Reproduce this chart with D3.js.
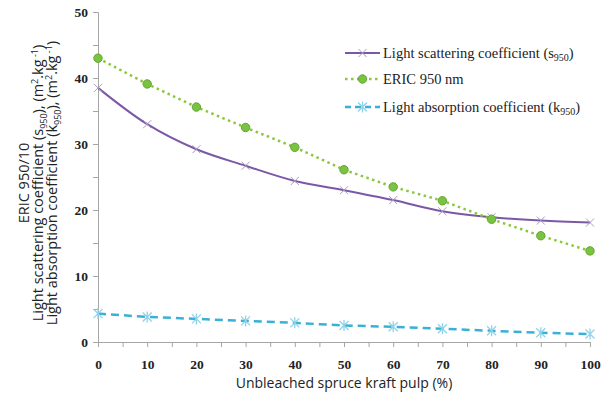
<!DOCTYPE html>
<html>
<head>
<meta charset="utf-8">
<script src="https://cdn.jsdelivr.net/npm/d3@7"></script>
<style>
body { margin: 0; background: #fff; }
</style>
</head>
<body>
<div id="chart-area"></div>
<script>
// data
var pulp = [0, 10, 20, 30, 40, 50, 60, 70, 80, 90, 100];
var scattering = [38.5, 33.0, 29.2, 26.7, 24.4, 23.0, 21.5, 19.8, 18.9, 18.4, 18.1];
var eric = [43.0, 39.1, 35.6, 32.5, 29.5, 26.1, 23.5, 21.4, 18.6, 16.1, 13.8];
var absorption = [4.3, 3.8, 3.5, 3.2, 2.9, 2.5, 2.3, 2.0, 1.7, 1.4, 1.2];
var xTicks = [0, 10, 20, 30, 40, 50, 60, 70, 80, 90, 100];
var yTicks = [0, 10, 20, 30, 40, 50];

var margin = {top: 12, right: 17, bottom: 53, left: 98},
  width = 607 - margin.left - margin.right,
  height = 395 - margin.top - margin.bottom;

var svg = d3.select("#chart-area")
  .append("svg")
  .attr("width", 607)
  .attr("height", 395)
  .append("g")
  .attr("transform", `translate(${margin.left}, ${margin.top})`);

var x = d3.scaleLinear().domain([0, 100]).range([0, width]);
var y = d3.scaleLinear().domain([0, 50]).range([height, 0]);

var axisColor = "#a6a6a6";
var tickFont = "'Liberation Serif', 'Times New Roman', serif";

// minor ticks every 5
var xAxisG = svg.append("g").attr("transform", `translate(0, ${height})`);
xAxisG.call(d3.axisBottom(x).tickValues(d3.range(0, 101, 5)).tickSize(5).tickFormat(""));
var yAxisG = svg.append("g");
yAxisG.call(d3.axisLeft(y).tickValues(d3.range(0, 51, 5)).tickSize(5).tickFormat(""));
svg.selectAll(".domain, .tick line").attr("stroke", axisColor);

// labels
var xLab = svg.append("g").attr("transform", `translate(0, ${height})`)
  .call(d3.axisBottom(x).tickValues(xTicks).tickSize(0).tickPadding(17).tickFormat(d3.format("d")));
xLab.select(".domain").remove();
var yLab = svg.append("g")
  .call(d3.axisLeft(y).tickValues(yTicks).tickSize(0).tickPadding(10).tickFormat(d3.format("d")));
yLab.select(".domain").remove();
svg.selectAll(".tick text")
  .attr("font-family", tickFont)
  .attr("font-weight", "bold")
  .attr("font-size", "13.5px")
  .attr("fill", "#222");

// x title
svg.append("text")
  .attr("x", width / 2)
  .attr("y", height + 46)
  .attr("text-anchor", "middle")
  .attr("font-family", "'Open Sans', 'DejaVu Sans', sans-serif")
  .attr("font-size", "14px")
  .attr("fill", "#222")
  .text("Unbleached spruce kraft pulp (%)");

// y title (three lines)
var yTitle = svg.append("text")
  .attr("transform", "rotate(-90)")
  .attr("text-anchor", "middle")
  .attr("font-family", "'Open Sans', 'DejaVu Sans', sans-serif")
  .attr("font-size", "14.5px")
  .attr("fill", "#222");
var cx = -(height / 2) - 6;
yTitle.append("tspan").attr("x", cx).attr("y", -69).text("ERIC 950/10");
function titleLine(yy, label, sym) {
  var l = yTitle.append("tspan").attr("x", cx).attr("y", yy);
  l.append("tspan").text(label + " (" + sym);
  l.append("tspan").attr("font-size", "9px").attr("dy", 4).text("950");
  l.append("tspan").attr("dy", -4).text("), (m");
  l.append("tspan").attr("font-size", "9px").attr("dy", -5).text("2");
  l.append("tspan").attr("dy", 5).text(".kg");
  l.append("tspan").attr("font-size", "9px").attr("dy", -5).text(" -1");
  l.append("tspan").attr("dy", 5).text(")");
}
titleLine(-55, "Light scattering coefficient", "s");
titleLine(-41, "Light absorption coefficient", "k");

var purple = "#7b58a6", green = "#8cc63f", blue = "#3bb0d6";

var toPts = vals => pulp.map((p, i) => [p, vals[i]]);

// scattering - smooth solid line
svg.append("path")
  .datum(toPts(scattering))
  .attr("d", d3.line().x(d => x(d[0])).y(d => y(d[1])).curve(d3.curveCatmullRom))
  .attr("fill", "none").attr("stroke", purple).attr("stroke-width", 2);

// eric - dotted line
svg.append("path")
  .datum(toPts(eric))
  .attr("d", d3.line().x(d => x(d[0])).y(d => y(d[1])))
  .attr("fill", "none").attr("stroke", green).attr("stroke-width", 2.5)
  .attr("stroke-dasharray", "2.5,3.5");

// absorption - dashed line
svg.append("path")
  .datum(toPts(absorption))
  .attr("d", d3.line().x(d => x(d[0])).y(d => y(d[1])))
  .attr("fill", "none").attr("stroke", blue).attr("stroke-width", 2.5)
  .attr("stroke-dasharray", "8,5");

// markers
function cross(g, s, col, w, star) {
  g.append("path")
    .attr("d", `M${-s},${-s}L${s},${s}M${-s},${s}L${s},${-s}` + (star ? `M0,${-s - 1}L0,${s + 1}` : ""))
    .attr("stroke", col).attr("stroke-width", w).attr("fill", "none");
}
svg.selectAll(".mS").data(toPts(scattering)).enter().append("g")
  .attr("transform", d => `translate(${x(d[0])},${y(d[1])})`)
  .each(function() { cross(d3.select(this), 4, "#a99bbf", 1, false); });
svg.selectAll(".mE").data(toPts(eric)).enter().append("circle")
  .attr("cx", d => x(d[0])).attr("cy", d => y(d[1])).attr("r", 4.2)
  .attr("fill", "#7cc242").attr("stroke", "#5ea82e").attr("stroke-width", 1);
svg.selectAll(".mA").data(toPts(absorption)).enter().append("g")
  .attr("transform", d => `translate(${x(d[0])},${y(d[1])})`)
  .each(function() { cross(d3.select(this), 4.5, "#8fd3ea", 1.3, true); });

// legend
var legend = svg.append("g").attr("transform", "translate(247, 0)");
var legItems = [
  {name: "Light scattering coefficient (s", sub: "950", tail: ")", y: 41},
  {name: "ERIC 950 nm", sub: "", tail: "", y: 67},
  {name: "Light absorption coefficient (k", sub: "950", tail: ")", y: 95}
];
legend.append("line").attr("x1", 0).attr("x2", 35).attr("y1", 41).attr("y2", 41)
  .attr("stroke", purple).attr("stroke-width", 2);
cross(legend.append("g").attr("transform", "translate(17.5,41)"), 4, "#a99bbf", 1, false);
legend.append("line").attr("x1", 0).attr("x2", 35).attr("y1", 67).attr("y2", 67)
  .attr("stroke", green).attr("stroke-width", 2.5).attr("stroke-dasharray", "2.5,3.5");
legend.append("circle").attr("cx", 17.5).attr("cy", 67).attr("r", 4.2)
  .attr("fill", "#7cc242").attr("stroke", "#5ea82e");
legend.append("line").attr("x1", 0).attr("x2", 35).attr("y1", 95).attr("y2", 95)
  .attr("stroke", blue).attr("stroke-width", 2.5).attr("stroke-dasharray", "6,4");
cross(legend.append("g").attr("transform", "translate(17.5,95)"), 4.5, "#8fd3ea", 1.3, true);

legItems.forEach(function(it) {
  var t = legend.append("text")
    .attr("x", 38).attr("y", it.y + 5)
    .attr("font-family", tickFont)
    .attr("font-size", "14.5px")
    .attr("fill", "#222");
  t.append("tspan").text(it.name);
  if (it.sub) {
    t.append("tspan").attr("font-size", "10px").attr("dy", 3).text(it.sub);
    t.append("tspan").attr("dy", -3).text(it.tail);
  }
});
</script>
</body>
</html>
